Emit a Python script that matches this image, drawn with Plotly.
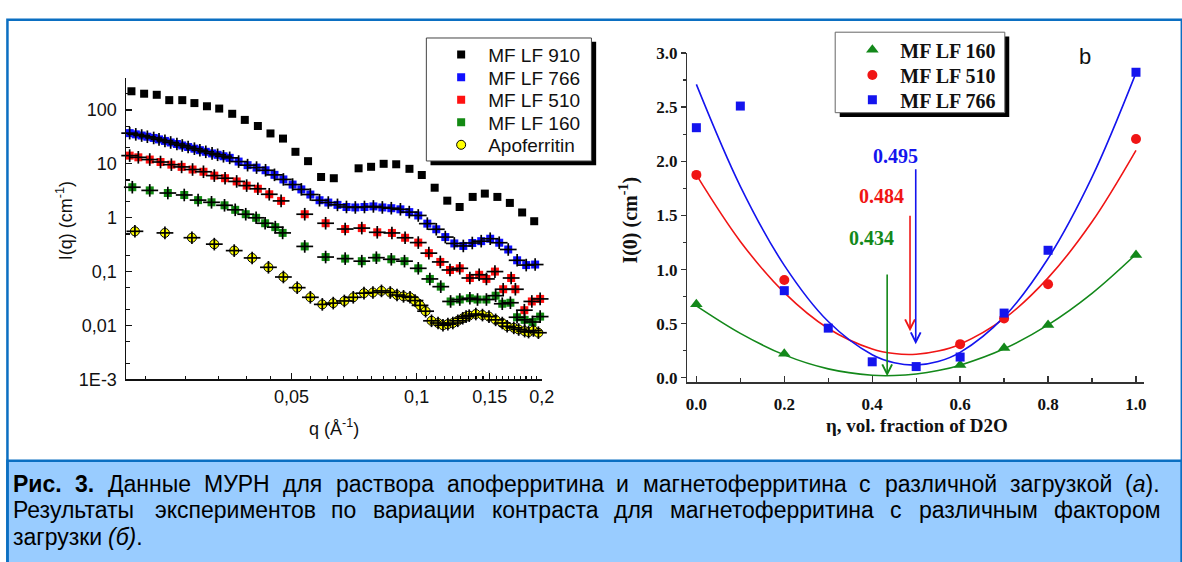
import math
import plotly.graph_objects as go

W, H = 1182, 562


def fx(px):
    return px / W


def fy(py):
    return 1 - py / H


SANS = "Liberation Sans, Arial, sans-serif"
SERIF = "Liberation Serif, Times New Roman, serif"

# ---------------- Panel (a): SANS curves I(q), cm^-1 ----------------
q_910 = [0.0206, 0.0221, 0.0237, 0.0254, 0.0273, 0.0292, 0.0313, 0.0335, 0.0360, 0.0386,
         0.0415, 0.0445, 0.0477, 0.0511, 0.0548, 0.0589, 0.0632, 0.0725, 0.0777, 0.0833,
         0.0893, 0.0961, 0.1029, 0.1105, 0.1185, 0.1269, 0.1364, 0.1459, 0.1564, 0.1676,
         0.1794, 0.1918]
I_910 = [222, 200, 191, 152, 152, 134, 117, 106, 84.8, 65.3,
         50.3, 36.6, 29.4, 16.7, 11.2, 5.7, 5.4, 8.25, 8.8, 10.0,
         9.8, 8.07, 6.2, 3.6, 2.07, 1.58, 2.43, 2.8, 2.43, 1.88,
         1.25, 0.86]

q_766 = [0.0204, 0.0211, 0.0218, 0.0225, 0.0233, 0.0240, 0.0248, 0.0256, 0.0265, 0.0273,
         0.0282, 0.0292, 0.0301, 0.0311, 0.0322, 0.0332, 0.0343, 0.0355, 0.0373, 0.0392,
         0.0412, 0.0433, 0.0455, 0.0478, 0.0503, 0.0528, 0.0555, 0.0584, 0.0613, 0.0645,
         0.0678, 0.0712, 0.0749, 0.0787, 0.0827, 0.0869, 0.0914, 0.0960, 0.1009, 0.1061,
         0.1115, 0.1172, 0.1232, 0.1295, 0.1361, 0.1430, 0.1503, 0.1580, 0.1661, 0.1745,
         0.1835, 0.1928]
I_766 = [37.1, 35.2, 33.5, 31.8, 30.2, 28.4, 26.6, 24.9, 23.3, 21.9,
         20.5, 19.1, 17.9, 16.7, 15.6, 14.7, 13.8, 12.9, 11.0, 9.44,
         8.51, 7.59, 6.24, 5.13, 4.12, 3.35, 2.69, 2.11, 1.91, 1.73,
         1.58, 1.55, 1.58, 1.62, 1.55, 1.50, 1.43, 1.27, 1.10, 0.776,
         0.610, 0.437, 0.333, 0.299, 0.339, 0.367, 0.407, 0.343, 0.257, 0.162,
         0.132, 0.135]

q_510 = [0.0204, 0.0214, 0.0228, 0.0242, 0.0257, 0.0272, 0.0289, 0.0307, 0.0326, 0.0346,
         0.0369, 0.0390, 0.0415, 0.0442, 0.0472, 0.0538, 0.0604, 0.0673, 0.0738, 0.0804,
         0.0872, 0.0938, 0.1009, 0.1070, 0.1140, 0.1203, 0.1270, 0.1343, 0.1414, 0.1472,
         0.1543, 0.1615, 0.1688, 0.1728, 0.1816, 0.1893, 0.1982]
I_510 = [14.2, 13.2, 12.0, 10.8, 9.65, 8.76, 7.84, 7.12, 6.04, 5.41,
         4.71, 3.94, 3.44, 2.72, 2.05, 1.16, 0.789, 0.616, 0.641, 0.536,
         0.521, 0.424, 0.345, 0.220, 0.151, 0.107, 0.115, 0.076, 0.0873, 0.0730,
         0.100, 0.047, 0.076, 0.047, 0.0192, 0.0279, 0.0311]

q_160 = [0.0207, 0.0228, 0.0252, 0.0276, 0.0298, 0.0321, 0.0345, 0.0366, 0.0388, 0.0411,
         0.0432, 0.0457, 0.0476, 0.0538, 0.0604, 0.0673, 0.0738, 0.0800, 0.0869, 0.0935,
         0.1009, 0.1076, 0.1143, 0.1207, 0.1270, 0.1343, 0.1401, 0.1472, 0.1549, 0.1607,
         0.1681, 0.1744, 0.1819, 0.1900, 0.1982]
I_160 = [3.68, 3.21, 2.87, 2.64, 2.12, 1.93, 1.70, 1.40, 1.16, 0.995,
         0.789, 0.668, 0.522, 0.293, 0.186, 0.174, 0.156, 0.181, 0.169, 0.156,
         0.115, 0.0730, 0.0525, 0.0279, 0.0303, 0.0320, 0.0303, 0.0303, 0.0357, 0.0253,
         0.0264, 0.0142, 0.0127, 0.0116, 0.0146]

q_apo = [0.0210, 0.0248, 0.0288, 0.0326, 0.0364, 0.0402, 0.0440, 0.0478, 0.0516, 0.0555,
         0.0593, 0.0630, 0.0670, 0.0704, 0.0747, 0.0785, 0.0823, 0.0864, 0.0897, 0.0930,
         0.0964, 0.0991, 0.1019, 0.1051, 0.1086, 0.1126, 0.1157, 0.1189, 0.1222, 0.1256,
         0.1291, 0.1315, 0.1338, 0.1388, 0.1440, 0.1493, 0.1549, 0.1607, 0.1651, 0.1713,
         0.1760, 0.1819, 0.1859, 0.1910, 0.1963]
I_apo = [0.559, 0.522, 0.425, 0.323, 0.245, 0.179, 0.120, 0.0793, 0.0503, 0.0333,
         0.0246, 0.0260, 0.0285, 0.0333, 0.0398, 0.0409, 0.0438, 0.0409, 0.0367, 0.0347,
         0.0333, 0.0290, 0.0236, 0.0184, 0.0122, 0.0111, 0.0101, 0.0106, 0.0111, 0.0122,
         0.0136, 0.0146, 0.0152, 0.0163, 0.0156, 0.0146, 0.0127, 0.0111, 0.00966, 0.00902,
         0.00842, 0.00786, 0.00754, 0.00807, 0.00733]

scale_labels = ["x 200", "x 20", "x 15", "x 5"]
scale_label_I = [0.56, 0.151, 0.0484, 0.0162]
scale_label_q = 0.2035

x_major_a = [0.05, 0.1, 0.15, 0.2]
x_major_a_text = ["0,05", "0,1", "0,15", "0,2"]
y_major_a = [0.001, 0.01, 0.1, 1, 10, 100]
y_major_a_text = ["1E-3", "0,01", "0,1", "1", "10", "100"]
y_minor_a = [0.002, 0.005, 0.02, 0.05, 0.2, 0.5, 2, 5, 20, 50, 200]
x_minor_a = [round(0.05 * k / 9, 5) for k in range(4, 36) if k % 9 != 0]

# ---------------- Panel (b): contrast variation ----------------
eta_160 = [0.0, 0.2, 0.6, 0.7, 0.8, 1.0]
I0_160 = [0.68, 0.222, 0.118, 0.275, 0.489, 1.134]
eta_510 = [0.0, 0.2, 0.6, 0.7, 0.8, 1.0]
I0_510 = [1.874, 0.903, 0.311, 0.548, 0.865, 2.206]
eta_766 = [0.0, 0.1, 0.2, 0.3, 0.4, 0.5, 0.6, 0.7, 0.8, 1.0]
I0_766 = [2.31, 2.51, 0.805, 0.459, 0.148, 0.104, 0.192, 0.598, 1.178, 2.822]

fit_eta = [0.0, 0.1, 0.2, 0.3, 0.4, 0.45, 0.5, 0.55, 0.6, 0.7, 0.8, 0.9, 1.0]
fit_160 = [0.665, 0.411, 0.212, 0.083, 0.024, 0.021, 0.035, 0.067, 0.117, 0.268, 0.489, 0.780, 1.141]
fit_510 = [1.874, 1.260, 0.787, 0.456, 0.266, 0.224, 0.218, 0.247, 0.311, 0.546, 0.923, 1.441, 2.101]
fit_766 = [2.71, 1.769, 1.039, 0.520, 0.213, 0.139, 0.118, 0.150, 0.235, 0.563, 1.102, 1.853, 2.816]

match_labels = ["0.434", "0.484", "0.495"]
match_eta = [0.434, 0.486, 0.499]
arrow_top = [0.968, 1.51, 1.94]
arrow_tip = [0.015, 0.43, 0.31]
label_pos = [(0.399, 1.29), (0.422, 1.68), (0.452, 2.05)]

x_major_b = [0.0, 0.2, 0.4, 0.6, 0.8, 1.0]
y_major_b = [0.0, 0.5, 1.0, 1.5, 2.0, 2.5, 3.0]

# ---------------- Caption ----------------
caption_lines = [
    [("Рис.", "b"), ("3.", "b"), ("Данные", ""), ("МУРН", ""), ("для", ""), ("раствора", ""),
     ("апоферритина", ""), ("и", ""), ("магнетоферритина", ""), ("с", ""), ("различной", ""),
     ("загрузкой", ""), ("(<i>а</i>).", "")],
    [("Результаты", ""), ("экспериментов", ""), ("по", ""), ("вариации", ""), ("контраста", ""),
     ("для", ""), ("магнетоферритина", ""), ("с", ""), ("различным", ""), ("фактором", "")],
    [("загрузки", ""), ("<i>(б)</i>.", "")],
]
caption_justify = [True, True, False]

GREEN, RED, BLUE = "#13881a", "#f01515", "#1414ee"

fig = go.Figure()

# ---- panel (a) traces ----
panel_a = [
    ("MF LF 910", q_910, I_910, "#000000", "square", 8, None, False, "legend"),
    ("MF LF 766", q_766, I_766, "#1010ff", "square", 8, None, True, "legend2"),
    ("MF LF 510", q_510, I_510, "#ff1111", "square", 8, None, True, "legend3"),
    ("MF LF 160", q_160, I_160, "#138a13", "square", 8, None, True, "legend4"),
    ("Apoferritin", q_apo, I_apo, "#ffff00", "circle", 9, "#000000", True, "legend5"),
]
for name, q, I, color, sym, size, edge, bars, lid in panel_a:
    fig.add_trace(go.Scatter(
        x=q, y=I, mode="markers", name=name, legend=lid,
        marker=dict(symbol=sym, size=size, color=color,
                    line=dict(color=edge or color, width=1 if edge else 0)),
        xaxis="x", yaxis="y", cliponaxis=False))
    if bars:
        for s, sz in (("line-ew", 12), ("line-ns", 9)):
            fig.add_trace(go.Scatter(
                x=q, y=I, mode="markers", showlegend=False, hoverinfo="skip",
                marker=dict(symbol=s, size=sz, color="black",
                            line=dict(color="black", width=1.7)),
                xaxis="x", yaxis="y", cliponaxis=False))

# ---- panel (b) traces ----
panel_b = [
    ("MF LF 160", eta_160, I0_160, fit_160, GREEN, "triangle-up", 11, "legend6"),
    ("MF LF 510", eta_510, I0_510, fit_510, RED, "circle", 10, "legend7"),
    ("MF LF 766", eta_766, I0_766, fit_766, BLUE, "square", 9, "legend8"),
]
for name, e, I, fit, color, sym, sz, lid in panel_b:
    fig.add_trace(go.Scatter(
        x=fit_eta, y=fit, mode="lines", showlegend=False, hoverinfo="skip",
        line=dict(color=color, width=1.6, shape="spline"), xaxis="x2", yaxis="y2"))
for name, e, I, fit, color, sym, sz, lid in panel_b:
    fig.add_trace(go.Scatter(
        x=e, y=I, mode="markers", name=name, legend=lid,
        marker=dict(symbol=sym, size=sz, color=color),
        xaxis="x2", yaxis="y2", cliponaxis=False))

# ---- annotations ----
ann = []
for txt, yv in zip(scale_labels, scale_label_I):
    ann.append(dict(x=math.log10(scale_label_q), y=math.log10(yv), xref="x", yref="y",
                    text=txt, showarrow=False, xanchor="left", yanchor="middle",
                    font=dict(family=SANS, size=17, color="#111")))


def paper_text(x, y, text, font, angle=0):
    return dict(x=fx(x), y=fy(y), xref="paper", yref="paper", text=text, showarrow=False,
                xanchor="center", yanchor="middle", textangle=angle, font=font)


ann.append(paper_text(63.5, 219, "I(q) (cm<sup>-1</sup>)", dict(family=SANS, size=18, color="#111"), -90))
ann.append(paper_text(336, 433, "q (Å<sup>-1</sup>)", dict(family=SANS, size=18, color="#111")))
ann.append(paper_text(635, 218, "<b>I(0) (cm<sup>-1</sup>)</b>", dict(family=SERIF, size=20, color="#111"), -90))
ann.append(paper_text(926.5, 431, "<b>η, vol. fraction of D2O</b>", dict(family=SERIF, size=19, color="#111")))
ann.append(paper_text(1097, 49, "b", dict(family=SANS, size=22, color="#111")))

for lab, e0, top, tip, (lx, ly), col in zip(match_labels, match_eta, arrow_top, arrow_tip,
                                            label_pos, [GREEN, RED, BLUE]):
    ann.append(dict(x=e0, y=tip, ax=e0, ay=top, xref="x2", yref="y2", axref="x2", ayref="y2",
                    text="", showarrow=True, arrowhead=5, arrowsize=1.2, arrowwidth=1.6,
                    arrowcolor=col))
    ann.append(dict(x=lx, y=ly, xref="x2", yref="y2", text="<b>" + lab + "</b>",
                    showarrow=False, xanchor="center", yanchor="middle",
                    font=dict(family=SERIF, size=20, color=col)))

# Arial / Liberation Sans advance widths (1/1000 em) used for justifying the caption
CW = dict(zip("абвгдежзийклмнопрстуфхцчшщъыьэюя",
              [556, 573, 531, 365, 583, 556, 669, 458, 559, 559, 438, 583, 688, 552, 556, 542,
               556, 500, 458, 500, 823, 500, 573, 521, 802, 823, 625, 719, 521, 510, 750, 542]))
CW.update(dict(zip("МУРНД", [833, 635, 667, 722, 677])))
CW.update({".": 278, "(": 333, ")": 333, "3": 556, " ": 278})
CWB = {"Р": 667, "и": 611, "с": 556, ".": 278, "3": 556}


def word_width(word, style, size):
    plain = word.replace("<i>", "").replace("</i>", "")
    tbl = CWB if style == "b" else CW
    return sum(tbl.get(c, CW.get(c, 556)) for c in plain) * size / 1000.0


CAP_SIZE = 23
CAP_LEFT, CAP_RIGHT = 10, 1171
for words, just, yc in zip(caption_lines, caption_justify, [491.5, 519, 546.5]):
    widths = [word_width(w, s, CAP_SIZE) for w, s in words]
    if just:
        gap = (CAP_RIGHT - CAP_LEFT - sum(widths)) / (len(words) - 1)
    else:
        gap = 0.278 * CAP_SIZE
    xpos = CAP_LEFT
    for (w, s), wd in zip(words, widths):
        txt = "<b>" + w + "</b>" if s == "b" else w
        ann.append(dict(x=fx(xpos), y=fy(yc), xref="paper", yref="paper", text=txt,
                        showarrow=False, xanchor="left", yanchor="middle", borderpad=0,
                        font=dict(family=SANS, size=CAP_SIZE, color="#000")))
        xpos += wd + gap

# ---- shapes: frame, caption box, legend boxes ----
FRAME = "#0b6fc2"
shapes = [
    dict(type="rect", xref="paper", yref="paper", x0=fx(5.5), x1=fx(1195), y0=fy(467.5), y1=fy(700),
         fillcolor="#99ccff", line=dict(color=FRAME, width=2.5), layer="below"),
    dict(type="rect", xref="paper", yref="paper", x0=fx(5.5), x1=fx(1195), y0=fy(11), y1=fy(700),
         line=dict(color=FRAME, width=2.5), layer="below"),
    dict(type="rect", xref="paper", yref="paper", x0=fx(434), x1=fx(601.8), y0=fy(34), y1=fy(161.7),
         fillcolor="black", line=dict(width=0), layer="above"),
    dict(type="rect", xref="paper", yref="paper", x0=fx(429.8), x1=fx(597), y0=fy(30), y1=fy(157.3),
         fillcolor="white", line=dict(color="#444", width=1), layer="above"),
    dict(type="rect", xref="paper", yref="paper", x0=fx(848.5), x1=fx(1020.2), y0=fy(28.5), y1=fy(111.8),
         fillcolor="black", line=dict(width=0), layer="above"),
    dict(type="rect", xref="paper", yref="paper", x0=fx(843.9), x1=fx(1015.7), y0=fy(24), y1=fy(107.3),
         fillcolor="white", line=dict(color="#666", width=1), layer="above"),
]

legends = {}
rows_a = [47.3, 70.7, 94.0, 117.3, 140.7]
for lid, row in zip(["legend", "legend2", "legend3", "legend4", "legend5"], rows_a):
    legends[lid] = dict(x=fx(437.7), y=fy(row), xanchor="left", yanchor="middle",
                        bgcolor="rgba(0,0,0,0)", borderwidth=0, itemwidth=44,
                        font=dict(family=SANS, size=19, color="#111"))
rows_b = [42.3, 68.3, 94.0]
for lid, row in zip(["legend6", "legend7", "legend8"], rows_b):
    legends[lid] = dict(x=fx(853.2), y=fy(row), xanchor="left", yanchor="middle",
                        bgcolor="rgba(0,0,0,0)", borderwidth=0, itemwidth=46,
                        font=dict(family=SERIF, size=20, color="#111", weight="bold"))

AX = "#111"
fig.update_layout(
    width=W, height=H, margin=dict(l=0, r=0, t=0, b=0),
    paper_bgcolor="white", plot_bgcolor="rgba(0,0,0,0)",
    showlegend=True,
    xaxis=dict(type="log", domain=[fx(125.7), fx(546.7)], anchor="y",
               range=[math.log10(0.02), math.log10(0.2)],
               showgrid=False, zeroline=False, showline=True, linecolor=AX, linewidth=1.6,
               ticks="inside", ticklen=6, tickwidth=1.3, tickcolor=AX,
               tickmode="array", tickvals=x_major_a, ticktext=x_major_a_text,
               ticklabelstandoff=0,
               tickfont=dict(family=SANS, size=18, color="#111"),
               minor=dict(tickmode="array", tickvals=x_minor_a, ticks="inside", ticklen=3.5,
                          tickwidth=1.2, tickcolor=AX, showgrid=False)),
    yaxis=dict(type="log", domain=[fy(383.3), fy(71)], anchor="x", range=[-3, 2.6],
               showgrid=False, zeroline=False, showline=True, linecolor=AX, linewidth=1.6,
               ticks="inside", ticklen=6, tickwidth=1.3, tickcolor=AX,
               tickmode="array", tickvals=y_major_a, ticktext=y_major_a_text,
               ticklabelstandoff=4,
               tickfont=dict(family=SANS, size=18, color="#111"),
               minor=dict(tickmode="array", tickvals=y_minor_a, ticks="inside", ticklen=3.5,
                          tickwidth=1.2, tickcolor=AX, showgrid=False)),
    xaxis2=dict(domain=[fx(694.3), fx(1156.8)], anchor="y2", range=[-0.0202, 1.0185],
                showgrid=False, zeroline=False, showline=True, linecolor="#333", linewidth=1.6,
                ticks="inside", ticklen=6, tickwidth=1.3, tickcolor="#333",
                tickmode="array", tickvals=x_major_b, ticktext=["%.1f" % v for v in x_major_b],
                ticklabelstandoff=6,
                tickfont=dict(family=SERIF, size=17, color="#111", weight="bold"),
                minor=dict(dtick=0.1, ticks="inside", ticklen=4, tickwidth=1.2, tickcolor="#333",
                           showgrid=False)),
    yaxis2=dict(domain=[fy(386), fy(45.3)], anchor="x2", range=[-0.038, 3.002],
                showgrid=False, zeroline=False, showline=True, linecolor="#333", linewidth=1.6,
                ticks="outside", ticklen=5, tickwidth=1.3, tickcolor="#333",
                tickmode="array", tickvals=y_major_b, ticktext=["%.1f" % v for v in y_major_b],
                tickfont=dict(family=SERIF, size=17, color="#111", weight="bold"),
                minor=dict(dtick=0.25, ticks="outside", ticklen=3, tickwidth=1.2, tickcolor="#333",
                           showgrid=False)),
    annotations=ann,
    shapes=shapes,
    **legends,
)

# pin the figure to the top-left corner of the window (no default page margin)
pin_js = ("document.documentElement.style.margin='0';document.body.style.margin='0';"
          "document.documentElement.style.overflow='hidden';document.body.style.overflow='hidden';"
          "var gd=document.getElementById('{plot_id}');gd.style.position='fixed';"
          "gd.style.left='0px';gd.style.top='0px';")
fig.write_html("out.html", post_script=pin_js,
               config={"displayModeBar": False, "staticPlot": True})
